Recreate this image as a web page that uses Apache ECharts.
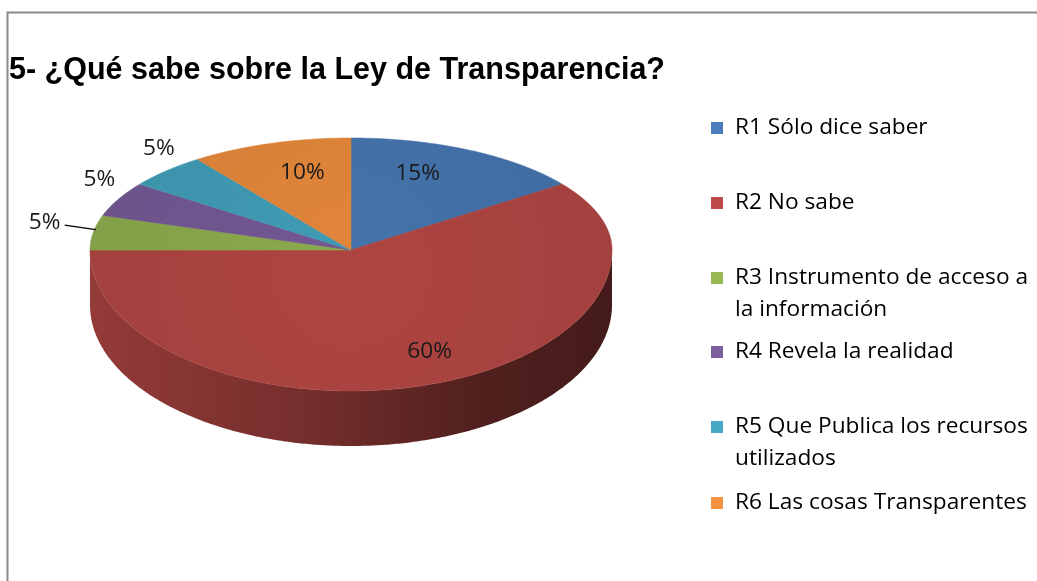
<!DOCTYPE html>
<html><head><meta charset="utf-8">
<script src="https://cdn.jsdelivr.net/npm/echarts@6/dist/echarts.min.js"></script>
<style>html,body{margin:0;padding:0;background:#fff}#c{width:1037px;height:581px}</style>
</head><body><div id="c"></div>
<script>
// ---- data ----
const titleText = '5- ¿Qué sabe sobre la Ley de Transparencia?';
const categories = ['R1 Sólo dice saber', 'R2 No sabe', 'R3 Instrumento de acceso a la información', 'R4 Revela la realidad', 'R5 Que Publica los recursos utilizados', 'R6 Las cosas Transparentes'];
const legendLabels = ['R1 Sólo dice saber', 'R2 No sabe', 'R3 Instrumento de acceso a\nla información', 'R4 Revela la realidad', 'R5 Que Publica los recursos\nutilizados', 'R6 Las cosas Transparentes'];
const values = [15, 60, 5, 5, 5, 10];
const colors = ['#4A7EBB', '#BE4B48', '#98B954', '#7D60A0', '#46AAC5', '#F69240'];

// ---- style / geometry ----
const G = { cx: 351, cy: 250, rx: 261, ryTop: 112, ryBot: 141, depth: 55 };
const labelCfg = [
  { da: -6.5, r: 0.73 }, { da: -4.7, r: 0.78 }, { da: 3, r: 1.2, leader: true },
  { da: 6, r: 1.15 }, { da: 6, r: 1.17 }, { da: 3, r: 0.72 }
];
const FONT = 'Open Sans';
const FS = 22.7;
const legendCenters = [128, 203, 278, 352, 427, 503];

const total = values.reduce((a, b) => a + b, 0);
const cum = values.map((v, i) => values.slice(0, i).reduce((a, b) => a + b, 0));

function pt(deg, r, dz) {
  const t = deg * Math.PI / 180;
  const c = Math.cos(t);
  const ry = c >= 0 ? G.ryTop : G.ryBot;
  return [G.cx + r * G.rx * Math.sin(t), G.cy - r * ry * c + (dz || 0)];
}
function shade(color, f) {
  const c = echarts.color.parse(color);
  return 'rgb(' + [0, 1, 2].map(k => Math.max(0, Math.min(255, Math.round(c[k] * f)))).join(',') + ')';
}

function makeRender(i) {
  return function (params, api) {
    const v = api.value(0);
    const start = cum[i] / total * 360;
    const end = start + v / total * 360;
    const base = colors[i];
    const children = [];
    // front wall
    const a = Math.max(start, 90), b = Math.min(end, 270);
    if (b > a) {
      const pts = [];
      for (let t = a; t <= b + 1e-6; t += 0.5) pts.push(pt(t, 1, 0));
      for (let t = b; t >= a - 1e-6; t -= 0.5) pts.push(pt(t, 1, G.depth));
      children.push({
        type: 'polygon', shape: { points: pts },
        style: {
          fill: {
            type: 'linear', x: G.cx - G.rx, y: 0, x2: G.cx + G.rx, y2: 0, global: true,
            colorStops: [
              { offset: 0, color: shade(base, 0.78) },
              { offset: 0.4, color: shade(base, 0.62) },
              { offset: 0.75, color: shade(base, 0.42) },
              { offset: 1, color: shade(base, 0.36) }
            ]
          }
        }
      });
    }
    // top face
    const tp = [[G.cx, G.cy]];
    for (let t = start; t <= end + 1e-6; t += 0.5) tp.push(pt(t, 1, 0));
    tp.push(pt(end, 1, 0));
    children.push({
      type: 'polygon', shape: { points: tp },
      style: {
        fill: {
          type: 'radial', x: G.cx, y: G.cy + 20, r: G.rx, global: true,
          colorStops: [
            { offset: 0, color: shade(base, 0.92) },
            { offset: 1, color: shade(base, 0.86) }
          ]
        },
        stroke: shade(base, 0.9), lineWidth: 0.6
      }
    });
    // label
    const cfg = labelCfg[i];
    const mid = (start + end) / 2;
    const lp = pt(mid + cfg.da, cfg.r, 0);
    const txt = Math.round(v / total * 100) + '%';
    children.push({
      type: 'text',
      style: { text: txt, x: lp[0], y: lp[1], align: 'center', verticalAlign: 'middle', fontFamily: FONT, fontSize: FS, fill: '#1a1a1a' }
    });
    if (cfg.leader) {
      const e = pt(mid, 0.99, 0);
      children.push({
        type: 'line', shape: { x1: lp[0] + 20, y1: lp[1] + 3, x2: e[0], y2: e[1] - 3 },
        style: { stroke: '#000', lineWidth: 1.3 }
      });
    }
    return { type: 'group', children };
  };
}

const series = categories.map((name, i) => ({
  type: 'custom', name, coordinateSystem: 'none',
  itemStyle: { color: colors[i] },
  data: [values[i]],
  renderItem: makeRender(i),
  silent: true
}));

const legends = categories.map((name, i) => {
  const two = legendLabels[i].indexOf('\n') >= 0;
  return {
    data: [name], orient: 'vertical', left: 711,
    top: legendCenters[i] - 16,
    padding: 0, itemWidth: 12, itemHeight: two ? 44 : 12,
    icon: two ? 'path://M0,0H12V12H0ZM0,43.99H12V44H0Z' : 'rect',
    formatter: () => legendLabels[i],
    selectedMode: false,
    textStyle: { fontFamily: FONT, fontSize: FS, color: '#000', lineHeight: 32, padding: [0, 0, 0, 7] }
  };
});

const chart = echarts.init(document.getElementById('c'));
chart.setOption({
  backgroundColor: '#fff',
  animation: false,
  title: {
    text: titleText, left: 9, top: 55, padding: 0,
    textStyle: { fontFamily: 'Liberation Sans', fontWeight: 'bold', fontSize: 30.5, color: '#000' }
  },
  legend: legends,
  graphic: [{
    type: 'polyline', silent: true,
    shape: { points: [[7.5, 581], [7.5, 12.5], [1037, 12.5]] },
    style: { stroke: '#8a8a8a', lineWidth: 2, fill: null }
  }],
  series
});
</script></body></html>
